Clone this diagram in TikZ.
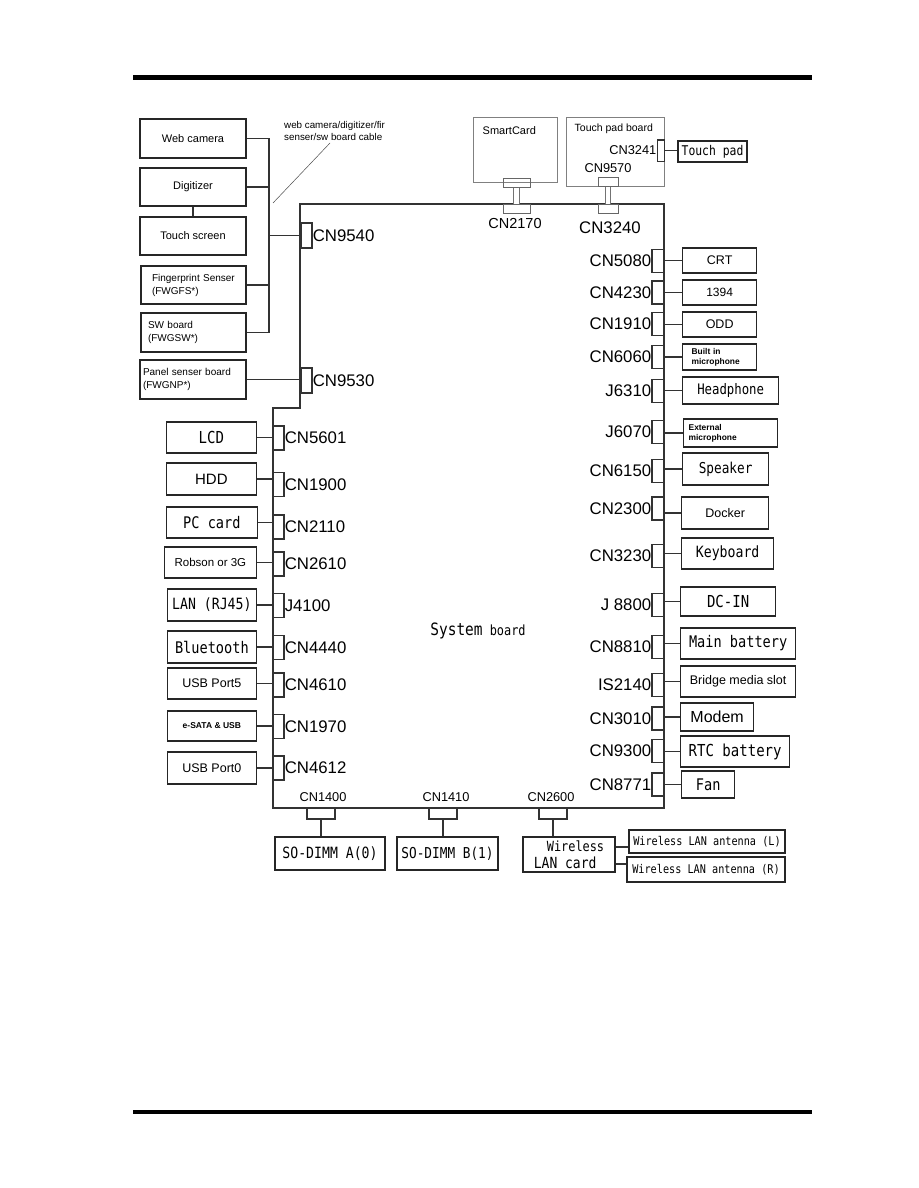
\documentclass[tikz,border=0pt]{standalone}
\usepackage{fontspec}
\setmainfont{Liberation Sans}
\newfontfamily\gothic[FakeStretch=0.85]{DejaVu Sans Mono}
\usepackage{tikz}
\newcommand\fs[1]{\fontsize{#1}{\dimexpr#1pt*6/5\relax}\selectfont}

\begin{document}
\begin{tikzpicture}[x=1pt, y=-1pt,
  part/.style={draw=black!85, line width=1.3, inner sep=0, align=center},
  pcb/.style={draw=black!50, line width=1, inner sep=0},
  pcbcn/.style={draw=black!60, line width=1, inner sep=0},
  sans/.style={font=\fs{#1}},
  bsans/.style={font=\bfseries\fs{#1}},
  goth/.style={font=\gothic\fs{#1}},
  cnlbl/.style={font=\fs{#1}, inner sep=0},
  cnlbl/.default=16.8,
  cnt/.style={draw=black!80, line width=1.1, inner sep=0, minimum width=11, minimum height=25, label distance=3pt},
  cnl/.style={draw=black!80, line width=1.1, inner sep=0, minimum width=11, minimum height=24, label distance=3.5pt},
  cnr/.style={draw=black!80, line width=1.1, inner sep=0, minimum width=12, minimum height=23, label distance=2.5pt},
  cnb/.style={draw=black!80, line width=1.1, inner sep=0, minimum width=28, minimum height=11},
  wire/.style={draw=black!80, line width=1.1},
  cable/.style={draw=black!55, double=white, double distance=4.5, line width=0.9},
  board/.style={draw=black!80, line width=1.3}
]
  \useasboundingbox (0,0) rectangle (918,1188);

  % page rules
  \draw[line width=5] (133,78) -- (812,78);
  \draw[line width=4] (133,1112) -- (812,1112);

  % system board outline
  \draw[board] (300,204) -- (664,204) -- (664,808) -- (273,808) -- (273,408) -- (300,408) -- cycle;
  \node[goth=14, inner sep=0] (sysboard) at (478,631) {{\fs{17}System} board};

  % display side parts
  \node[part, sans=11, minimum width=106, minimum height=39] (webcam)    at (193,138.5) {Web camera};
  \node[part, sans=11, minimum width=106, minimum height=38] (digitizer) at (193,187)   {Digitizer};
  \node[part, sans=11, minimum width=106, minimum height=38] (touchscr)  at (193,236)   {Touch screen};
  \node[part, sans=10, text width=83, inner xsep=11, align=left, minimum height=38] (fpsens)  at (193.5,285)   {Fingerprint Senser\\[1pt](FWGFS*)};
  \node[part, sans=10, text width=91, inner xsep=7, align=left, minimum height=39]  (swboard) at (193.5,332.5) {SW board\\[1pt](FWGSW*)};
  \node[part, sans=10, text width=100, inner xsep=3, align=left, minimum height=39] (panel)   at (193,379.5)   {Panel senser board\\[1pt](FWGNP*)};

  \node[cnt, label={[cnlbl]right:CN9540}] (cn9540) at (306.5,235.5) {};
  \node[cnt, label={[cnlbl]right:CN9530}] (cn9530) at (306.5,380.5) {};

  \coordinate (bus) at (269,0);
  \draw[wire] (webcam.east) -- (webcam.east -| bus) -- (swboard.east -| bus) -- (swboard.east);
  \draw[wire] (digitizer.east) -- (digitizer.east -| bus);
  \draw[wire] (fpsens.east) -- (fpsens.east -| bus);
  \draw[wire] (cn9540.west -| bus) -- (cn9540.west);
  \draw[wire] (digitizer) -- (touchscr);
  \draw[wire] (panel.east) -- (panel.east -| cn9530.west);

  \node[sans=9.8, align=left, anchor=north west, inner sep=0] (cablenote) at (284,121) {web camera/digitizer/fir\\senser/sw board cable};
  \coordinate (notetip) at (330,143);
  \coordinate (notefoot) at (273,203);
  \draw[black!70, line width=0.5] (notetip) -- (notefoot);

  % smart card and touch pad
  \node[pcb, minimum width=84, minimum height=64, label={[sans=11, anchor=north west, inner sep=0, xshift=10, yshift=-9]north west:SmartCard}] (smartcard) at (515,150) {};
  \node[pcbcn, minimum width=27, minimum height=9] (scplug) at (516.5,182.5) {};
  \node[pcbcn, minimum width=27, minimum height=9] (cn2170) at (516.5,208.5) {};
  \node[cnlbl=14.5] (cn2170lbl) at (515,224) {CN2170};
  \draw[cable] (scplug) -- (cn2170);

  \node[pcb, minimum width=98, minimum height=68, label={[sans=10.5, anchor=north west, inner sep=0, xshift=9, yshift=-6]north west:Touch pad board}] (tpboard) at (615,152) {};
  \node[pcbcn, minimum width=20, minimum height=9] (tpplug) at (608,181.5) {};
  \node[cnlbl=12.8] (cn9570lbl) at (608,168.5) {CN9570};
  \node[pcbcn, minimum width=20, minimum height=9] (cn3240) at (608,208.5) {};
  \node[cnlbl] (cn3240lbl) at (610,227.5) {CN3240};
  \draw[cable] (tpplug) -- (cn3240);
  \node[pcbcn, draw=black!80, minimum width=7, minimum height=21, label distance=4pt, label={[cnlbl=12.8]left:CN3241}] (cn3241) at (660.5,150.5) {};
  \node[part, goth=13.4, minimum width=69, minimum height=21] (touchpad) at (712.5,151.5) {Touch pad};
  \draw[wire] (cn3241.east) -- (cn3241.east -| touchpad.west);

  % right side parts
  \node[part, anchor=west, sans=12.5, minimum width=74, minimum height=25]  (crt)     at (682,260.5) {CRT};
  \node[part, anchor=west, sans=12,   minimum width=74, minimum height=25]  (i1394)   at (682,292.5) {1394};
  \node[part, anchor=west, sans=12.5, minimum width=74, minimum height=25]  (odd)     at (682,324.5) {ODD};
  \node[part, anchor=west, bsans=8.4, align=left, text width=56, inner xsep=9, minimum height=26] (mic) at (682,357) {Built in\\microphone};
  \node[part, anchor=west, goth=14.5, minimum width=96, minimum height=27]  (headph)  at (682,390.5) {Headphone};
  \node[part, anchor=west, bsans=8.4, align=left, text width=84, inner xsep=5, minimum height=28] (extmic) at (683,433) {External\\microphone};
  \node[part, anchor=west, goth=15,   minimum width=86, minimum height=32]  (speaker) at (682,469)   {Speaker};
  \node[part, anchor=west, sans=12.5, minimum width=87, minimum height=32]  (docker)  at (681,513)   {Docker};
  \node[part, anchor=west, goth=15.5, minimum width=92, minimum height=31]  (kbd)     at (681,553.5) {Keyboard};
  \node[part, anchor=west, goth=16.5, minimum width=95, minimum height=29]  (dcin)    at (680,601.5) {DC-IN};
  \node[part, anchor=west, goth=16,   minimum width=115, minimum height=31] (mainbat) at (680,643.5) {Main battery};
  \node[part, anchor=west, sans=12.5, minimum width=115, minimum height=31] (bridge)  at (680,681.5) {Bridge media slot};
  \node[part, anchor=west, sans=16,   minimum width=73, minimum height=28]  (modem)   at (680,717)   {Modem};
  \node[part, anchor=west, goth=16.5, minimum width=109, minimum height=31] (rtc)     at (680,751.5) {RTC battery};
  \node[part, anchor=west, goth=16,   minimum width=53, minimum height=27]  (fan)     at (681,784.5) {Fan};

  \node[cnr, label={[cnlbl]left:CN5080}] (cn5080) at (658,261)   {};
  \node[cnr, label={[cnlbl]left:CN4230}] (cn4230) at (658,292.5) {};
  \node[cnr, label={[cnlbl]left:CN1910}] (cn1910) at (658,324)   {};
  \node[cnr, label={[cnlbl]left:CN6060}] (cn6060) at (658,357)   {};
  \node[cnr, label={[cnlbl]left:J6310}]  (j6310)  at (658,391)   {};
  \node[cnr, label={[cnlbl]left:J6070}]  (j6070)  at (658,432)   {};
  \node[cnr, label={[cnlbl]left:CN6150}] (cn6150) at (658,471)   {};
  \node[cnr, label={[cnlbl]left:CN2300}] (cn2300) at (658,508.5) {};
  \node[cnr, label={[cnlbl]left:CN3230}] (cn3230) at (658,556)   {};
  \node[cnr, label={[cnlbl]left:J 8800}] (j8800)  at (658,605)   {};
  \node[cnr, label={[cnlbl]left:CN8810}] (cn8810) at (658,647)   {};
  \node[cnr, label={[cnlbl]left:IS2140}] (is2140) at (658,685)   {};
  \node[cnr, label={[cnlbl]left:CN3010}] (cn3010) at (658,718.5) {};
  \node[cnr, label={[cnlbl]left:CN9300}] (cn9300) at (658,751)   {};
  \node[cnr, label={[cnlbl]left:CN8771}] (cn8771) at (658,784.5) {};

  \draw[wire] (crt.west -| cn5080.east) -- (crt.west);
  \draw[wire] (i1394.west -| cn4230.east) -- (i1394.west);
  \draw[wire] (odd.west -| cn1910.east) -- (odd.west);
  \draw[wire] (mic.west -| cn6060.east) -- (mic.west);
  \draw[wire] (headph.west -| j6310.east) -- (headph.west);
  \draw[wire] (extmic.west -| j6070.east) -- (extmic.west);
  \draw[wire] (speaker.west -| cn6150.east) -- (speaker.west);
  \draw[wire] (docker.west -| cn2300.east) -- (docker.west);
  \draw[wire] (kbd.west -| cn3230.east) -- (kbd.west);
  \draw[wire] (dcin.west -| j8800.east) -- (dcin.west);
  \draw[wire] (mainbat.west -| cn8810.east) -- (mainbat.west);
  \draw[wire] (bridge.west -| is2140.east) -- (bridge.west);
  \draw[wire] (modem.west -| cn3010.east) -- (modem.west);
  \draw[wire] (rtc.west -| cn9300.east) -- (rtc.west);
  \draw[wire] (fan.west -| cn8771.east) -- (fan.west);

  % left side parts
  \node[part, anchor=east, goth=16.5, minimum width=90, minimum height=31] (lcd)    at (257,437.5) {LCD};
  \node[part, anchor=east, sans=15,   minimum width=90, minimum height=32] (hdd)    at (257,479)   {HDD};
  \node[part, anchor=east, goth=16,   minimum width=91, minimum height=31] (pccard) at (258,522.5) {PC card};
  \node[part, anchor=east, sans=11.5, minimum width=92, minimum height=31] (robson) at (257,562.5) {Robson or 3G};
  \node[part, anchor=east, goth=15.5, minimum width=89, minimum height=32] (lan)    at (257,605)   {LAN (RJ45)};
  \node[part, anchor=east, goth=16,   minimum width=89, minimum height=32] (bt)     at (257,647)   {Bluetooth};
  \node[part, anchor=east, sans=12.5, minimum width=89, minimum height=31] (usb5)   at (257,683.5) {USB Port5};
  \node[part, anchor=east, bsans=8.5, minimum width=89, minimum height=30] (esata)  at (257,726)   {e-SATA \& USB};
  \node[part, anchor=east, sans=12.5, minimum width=89, minimum height=32] (usb0)   at (257,768)   {USB Port0};

  \node[cnl, label={[cnlbl]right:CN5601}] (cn5601) at (278.5,438)   {};
  \node[cnl, label={[cnlbl]right:CN1900}] (cn1900) at (278.5,484.5) {};
  \node[cnl, label={[cnlbl]right:CN2110}] (cn2110) at (278.5,527)   {};
  \node[cnl, label={[cnlbl]right:CN2610}] (cn2610) at (278.5,564)   {};
  \node[cnl, label={[cnlbl]right:J4100}]  (j4100)  at (278.5,605.5) {};
  \node[cnl, label={[cnlbl]right:CN4440}] (cn4440) at (278.5,647.5) {};
  \node[cnl, label={[cnlbl]right:CN4610}] (cn4610) at (278.5,685)   {};
  \node[cnl, label={[cnlbl]right:CN1970}] (cn1970) at (278.5,726.5) {};
  \node[cnl, label={[cnlbl]right:CN4612}] (cn4612) at (278.5,768)   {};

  \draw[wire] (lcd.east) -- (lcd.east -| cn5601.west);
  \draw[wire] (hdd.east) -- (hdd.east -| cn1900.west);
  \draw[wire] (pccard.east) -- (pccard.east -| cn2110.west);
  \draw[wire] (robson.east) -- (robson.east -| cn2610.west);
  \draw[wire] (lan.east) -- (lan.east -| j4100.west);
  \draw[wire] (bt.east) -- (bt.east -| cn4440.west);
  \draw[wire] (usb5.east) -- (usb5.east -| cn4610.west);
  \draw[wire] (esata.east) -- (esata.east -| cn1970.west);
  \draw[wire] (usb0.east) -- (usb0.east -| cn4612.west);

  % bottom side parts
  \node[cnb] (cn1400) at (321,813.5) {};
  \node[cnb] (cn1410) at (443,813.5) {};
  \node[cnb] (cn2600) at (553,813.5) {};
  \node[cnlbl=12.8] (cn1400lbl) at (323,797.5) {CN1400};
  \node[cnlbl=12.8] (cn1410lbl) at (446,797.5) {CN1410};
  \node[cnlbl=12.8] (cn2600lbl) at (551,797.5) {CN2600};

  \node[part, goth=15.5, minimum width=110, minimum height=33] (dimma) at (330,853.5) {SO-DIMM A(0)};
  \node[part, goth=15,   minimum width=101, minimum height=33] (dimmb) at (447.5,853.5) {SO-DIMM B(1)};
  \node[part, goth=14, align=left, minimum width=92, minimum height=35] (wlan) at (569,854.5) {\hspace*{13pt}Wireless\\{\fs{15.3}LAN card}};
  \node[part, goth=12, minimum width=156, minimum height=23] (antl) at (707,841.5) {Wireless LAN antenna (L)};
  \node[part, goth=12, minimum width=158, minimum height=25] (antr) at (706,869.5) {Wireless LAN antenna (R)};

  \draw[wire] (cn1400.south) -- (cn1400.south |- dimma.north);
  \draw[wire] (cn1410.south) -- (cn1410.south |- dimmb.north);
  \draw[wire] (cn2600.south) -- (cn2600.south |- wlan.north);
  \coordinate (wlanl) at ([yshift=7.5]wlan.east);
  \coordinate (wlanr) at ([yshift=-9.5]wlan.east);
  \draw[wire] (wlanl) -- (wlanl -| antl.west);
  \draw[wire] (wlanr) -- (wlanr -| antr.west);
\end{tikzpicture}
\end{document}
